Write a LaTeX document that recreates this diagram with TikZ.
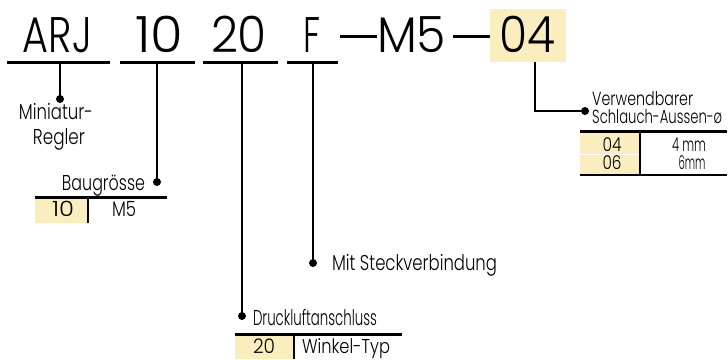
\documentclass[tikz,border=0pt]{standalone}
\usepackage{fontspec}
\setmainfont{Poppins}[UprightFont={* Light}]
\usepackage{graphicx}
\definecolor{hl}{RGB}{250,238,190}
\newcommand\hfit[2]{\resizebox{#1}{\height}{#2}}
\begin{document}
\begin{tikzpicture}[x=1pt,y=-1pt,
  big/.style={font=\fontsize{50}{50}\selectfont, anchor=base, inner sep=0pt},
  lbl/.style={font=\fontsize{21.5}{22}\selectfont, anchor=base, inner sep=0pt},
  slbl/.style={font=\fontsize{19}{20}\selectfont, anchor=base west, inner sep=0pt},
  tbl/.style={font=\fontsize{21}{22}\selectfont, anchor=base, inner sep=0pt},
  stbl/.style={font=\fontsize{19}{20}\selectfont, anchor=base, inner sep=0pt},
  uline/.style={line width=3pt},
  conn/.style={line width=2.5pt},
  dotn/.style={circle, fill=black, inner sep=0pt, minimum size=8pt},
  cell/.style={fill=hl, draw=none, inner sep=0pt}]
\useasboundingbox (0,0) rectangle (728,359);
% code row
\node[cell, minimum width=76pt, minimum height=53pt] (box04) at (528,35.5) {};
\node[big] (arj) at (57.5,52) {\hfit{69pt}{ARJ}};
\node[big] (c10) at (159,52) {\hfit{48pt}{10}};
\node[big] (c20) at (239,52) {\hfit{56pt}{20}};
\node[big] (cF) at (312,52) {\hfit{17pt}{F}};
\node[big] (cM5) at (411.5,52) {\hfit{69pt}{M5}};
\node[big] (c04) at (527,52) {\hfit{56pt}{04}};
\coordinate (d1a) at (340,36); \coordinate (d1b) at (377,36);
\coordinate (d2a) at (453,36); \coordinate (d2b) at (490,36);
\draw[uline] (d1a) -- (d1b);
\draw[uline] (d2a) -- (d2b);
% underlines
\coordinate (u1a) at (7,62);   \coordinate (u1b) at (110,62);
\coordinate (u2a) at (120,62); \coordinate (u2b) at (195,62);
\coordinate (u3a) at (203,62); \coordinate (u3b) at (278,62);
\coordinate (u4a) at (287,62); \coordinate (u4b) at (338,62);
\draw[uline] (u1a) -- (u1b);
\draw[uline] (u2a) -- (u2b);
\draw[uline] (u3a) -- (u3b);
\draw[uline] (u4a) -- (u4b);
% connectors
\coordinate (s1) at (60,62);
\coordinate (s2) at (157,62);
\coordinate (s3) at (242,62);
\coordinate (s4) at (313,62);
\coordinate (s5) at (535,62);
\coordinate (k5) at (535,111);
\node[dotn] (p1) at (60,99) {};
\node[dotn] (p2) at (157,182) {};
\node[dotn] (p3) at (242,316) {};
\node[dotn] (p4) at (313,263) {};
\node[dotn] (p5) at (585,111) {};
\draw[conn] (s1) -- (p1.center);
\draw[conn] (s2) -- (p2.center);
\draw[conn] (s3) -- (p3.center);
\draw[conn] (s4) -- (p4.center);
\draw[conn] (s5) -- (k5) -- (p5.center);
% Miniatur-Regler
\node[lbl] (mini1) at (56,119) {\hfit{74pt}{Miniatur-}};
\node[lbl] (mini2) at (59,144) {\hfit{52pt}{Regler}};
% Baugroesse
\node[lbl] (bau) at (103.5,190) {\hfit{83pt}{Baugrösse}};
\fill[hl] (35,198.5) rectangle (88,223);
\draw[uline] (35,197) -- (167,197);
\draw[line width=2pt] (88,198.5) -- (88,223);
\node[tbl] (t10a) at (63,216) {\hfit{22pt}{10}};
\node[tbl] (t10b) at (124,216) {\hfit{24pt}{M5}};
% Mit Steckverbindung
\node[lbl] (steck) at (414.5,270) {\hfit{165pt}{Mit Steckverbindung}};
% Druckluftanschluss
\node[lbl] (druck) at (315,325) {\hfit{124pt}{Druckluftanschluss}};
\fill[hl] (235,335.5) rectangle (294,359);
\draw[uline] (235,334) -- (402,334);
\draw[line width=2pt] (294,335.5) -- (294,359);
\node[tbl, font=\fontsize{20}{20}\selectfont] (t20a) at (264,353) {\hfit{22pt}{20}};
\node[tbl, font=\fontsize{20}{20}\selectfont] (t20b) at (346,353) {\hfit{88pt}{Winkel-Typ}};
% Verwendbarer
\node[slbl] (verw1) at (592,105) {\hfit{101pt}{Verwendbarer}};
\node[slbl] (verw2) at (592,123) {\hfit{130pt}{Schlauch-Aussen-ø}};
\fill[hl] (580,132.5) rectangle (640,154);
\fill[hl] (580,155) rectangle (640,174);
\draw[uline] (580,131) -- (727,131);
\draw[line width=2pt] (580,175) -- (727,175);
\draw[line width=2pt] (640,132.5) -- (640,174);
\node[stbl] (t04a) at (612,151) {\hfit{19pt}{04}};
\node[stbl] (t04b) at (689,151) {\hfit{34pt}{4 mm}};
\node[stbl] (t06a) at (612,169) {\hfit{19pt}{06}};
\node[stbl] (t06b) at (692,169) {\hfit{27pt}{6mm}};
\end{tikzpicture}
\end{document}
